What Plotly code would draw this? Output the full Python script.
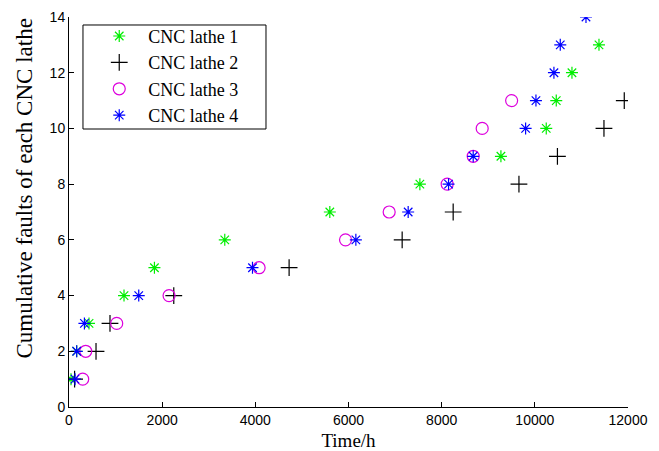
import plotly.graph_objects as go

# Cumulative fault count (1..n) against operating time for each lathe
lathe1_time = [43, 165, 430, 1181, 1834, 3344, 5599, 7532, 9272, 10245, 10460, 10797, 11377]
lathe2_time = [120, 580, 880, 2249, 4725, 7152, 8247, 9659, 10485, 11484, 11920]
lathe3_time = [294, 359, 1024, 2148, 4081, 5936, 6873, 8118, 8677, 8870, 9502]
lathe4_time = [129, 165, 331, 1497, 3939, 6158, 7281, 8148, 8677, 9802, 10024, 10410, 10546, 11098]

series_names = ["CNC lathe 1", "CNC lathe 2", "CNC lathe 3", "CNC lathe 4"]
series_times = [lathe1_time, lathe2_time, lathe3_time, lathe4_time]
series_colors = ["#00ee00", "#000000", "#dd00dd", "#0000ff"]
series_symbols = ["asterisk-open", "cross-thin-open", "circle-open", "asterisk-open"]
series_sizes = [10, 12, 12, 10]

fig = go.Figure()
for name, times, color, symbol, size in zip(series_names, series_times, series_colors,
                                            series_symbols, series_sizes):
    faults = list(range(1, len(times) + 1))
    fig.add_trace(go.Scatter(
        x=times, y=faults, mode="markers", name=name,
        marker=dict(symbol=symbol, size=size, color=color,
                    line=dict(color=color, width=1.2)),
    ))

tick_font = dict(family="Liberation Sans, Arial", size=14, color="black")
serif = "Liberation Serif, Times New Roman"

axis_common = dict(
    showline=True, linecolor="black", linewidth=1,
    ticks="inside", ticklen=5, tickcolor="black", tickwidth=1,
    showgrid=False, zeroline=False, mirror=False,
    tickfont=tick_font, automargin=False,
)

fig.update_layout(
    width=659, height=451,
    margin=dict(l=69, r=31, t=17, b=44),
    plot_bgcolor="white", paper_bgcolor="white",
    xaxis=dict(range=[0, 12000], dtick=2000, tick0=0, tickformat="d",
               title=dict(text="Time/h", standoff=8,
                          font=dict(family=serif, size=19, color="black")),
               **axis_common),
    yaxis=dict(range=[0, 14], dtick=2, tick0=0, **axis_common),
    legend=dict(
        x=0.038, y=0.998, xanchor="left", yanchor="top",
        bgcolor="rgba(0,0,0,0)", borderwidth=0,
        font=dict(family=serif, size=18, color="black"),
        itemwidth=48, tracegroupgap=0,
    ),
    showlegend=True,
)

# y-axis title, placed as a rotated annotation left of the tick labels
fig.add_annotation(
    text="Cumulative faults of each CNC lathe",
    xref="paper", yref="paper", x=0, y=0.56, xanchor="center", yanchor="middle",
    xshift=-44, textangle=-90, showarrow=False,
    font=dict(family=serif, size=23, color="black"),
)

# frame around the legend
fig.add_shape(
    type="rect", xref="paper", yref="paper",
    x0=0.025, x1=0.3524, y0=0.7128, y1=0.9795,
    line=dict(color="black", width=1), fillcolor="rgba(0,0,0,0)", layer="below",
)

fig.write_html("out.html")
